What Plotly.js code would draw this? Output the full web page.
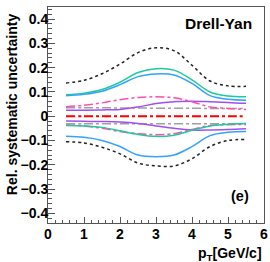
<!DOCTYPE html>
<html>
<head>
<meta charset="utf-8">
<script src="https://cdn.plot.ly/plotly-3.0.1.min.js"></script>
<style>html,body{margin:0;padding:0;background:#fff;}#chart{width:270px;height:262px;}</style>
</head>
<body>
<div id="chart"></div>
<script>
var pt = [0.5, 1, 1.5, 2, 2.5, 3, 3.5, 4, 4.5, 5, 5.5];
var totalUp = [0.137, 0.148, 0.175, 0.215, 0.262, 0.282, 0.27, 0.21, 0.145, 0.125, 0.123];
var totalDn = [-0.105, -0.11, -0.128, -0.155, -0.193, -0.205, -0.205, -0.175, -0.125, -0.1, -0.096];
var tealUp = [0.088, 0.095, 0.11, 0.14, 0.18, 0.196, 0.19, 0.15, 0.1, 0.083, 0.08];
var tealDn = [-0.038, -0.04, -0.046, -0.06, -0.075, -0.083, -0.078, -0.058, -0.04, -0.033, -0.03];
var blueUp = [0.084, 0.09, 0.103, 0.13, 0.163, 0.174, 0.17, 0.135, 0.085, 0.07, 0.066];
var blueDn = [-0.083, -0.087, -0.1, -0.125, -0.16, -0.167, -0.16, -0.125, -0.08, -0.066, -0.063];
var magUp = [0.039, 0.045, 0.055, 0.068, 0.077, 0.08, 0.076, 0.06, 0.038, 0.032, 0.028];
var magDn = [-0.036, -0.04, -0.05, -0.063, -0.072, -0.076, -0.072, -0.055, -0.038, -0.035, -0.034];
var purpUp = [0.025, 0.025, 0.026, 0.028, 0.038, 0.052, 0.06, 0.062, 0.06, 0.057, 0.053];
var purpDn = [-0.02, -0.021, -0.022, -0.024, -0.03, -0.04, -0.05, -0.057, -0.057, -0.055, -0.052];
var grayUp = [0.035, 0.035, 0.035, 0.034, 0.034, 0.033, 0.033, 0.033, 0.032, 0.032, 0.032];
var grayDn = [-0.031, -0.031, -0.031, -0.031, -0.031, -0.031, -0.031, -0.031, -0.031, -0.031, -0.031];
var redZero = [0, 0, 0, 0, 0, 0, 0, 0, 0, 0, 0];

function tr(y, color, dash, width) {
  return {x: pt, y: y, mode: 'lines', type: 'scatter', hoverinfo: 'skip',
    line: {color: color, dash: dash, width: width, shape: 'spline', smoothing: 1}};
}
var data = [
  tr(grayUp, '#a0a0a0', 'dashdot', 1.5),
  tr(grayDn, '#a0a0a0', 'dashdot', 1.5),
  tr(redZero, '#ff0000', 'dashdot', 2),
  tr(purpUp, '#a050f0', 'solid', 1.5),
  tr(purpDn, '#a050f0', 'solid', 1.5),
  tr(magUp, '#ff4fa8', 'dashdot', 1.5),
  tr(magDn, '#ff4fa8', 'dashdot', 1.5),
  tr(tealUp, '#1fc9a0', 'solid', 1.5),
  tr(tealDn, '#1fc9a0', 'solid', 1.5),
  tr(blueUp, '#33a3ff', 'solid', 1.5),
  tr(blueDn, '#33a3ff', 'solid', 1.5),
  tr(totalUp, '#222222', 'dot', 1.5),
  tr(totalDn, '#222222', 'dot', 1.5)
];
var F = 'Liberation Sans, Arial, sans-serif';
var layout = {
  width: 270, height: 262,
  margin: {l: 48, r: 6, t: 7, b: 39, pad: 0},
  paper_bgcolor: '#fff', plot_bgcolor: '#fff',
  showlegend: false,
  font: {family: F, size: 14, color: '#000'},
  xaxis: {range: [0, 6], dtick: 1, tick0: 0, ticks: 'inside', ticklen: 6, tickcolor: '#555',
    showline: true, linecolor: '#555', linewidth: 1, mirror: true, showgrid: false, zeroline: false,
    tickfont: {family: F, size: 14, weight: 'bold'}, ticklabelstandoff: -2,
    minor: {dtick: 0.2, ticks: 'inside', ticklen: 3, tickcolor: '#555', showgrid: false}},
  yaxis: {range: [-0.44, 0.45], dtick: 0.1, tick0: 0, ticks: 'inside', ticklen: 7, tickcolor: '#555',
    showline: true, linecolor: '#555', linewidth: 1, mirror: true, showgrid: false, zeroline: false,
    tickfont: {family: F, size: 14, weight: 'bold'}, ticklabelstandoff: -4,
    minor: {dtick: 0.02, ticks: 'inside', ticklen: 4, tickcolor: '#555', showgrid: false}},
  annotations: [
    {text: 'Drell-Yan', xref: 'paper', yref: 'paper', x: 0.955, y: 0.925, xanchor: 'right', yanchor: 'middle',
      showarrow: false, font: {family: F, size: 15.5, weight: 'bold'}},
    {text: '(e)', xref: 'paper', yref: 'paper', x: 0.94, y: 0.125, xanchor: 'right', yanchor: 'middle',
      showarrow: false, font: {family: F, size: 14.5, weight: 'bold'}},
    {text: 'p<sub>T</sub>[GeV/c]', xref: 'paper', yref: 'paper', x: 1.0, y: -0.145, xanchor: 'right', yanchor: 'middle',
      showarrow: false, font: {family: F, size: 14, weight: 'bold'}},
    {text: 'Rel. systematic uncertainty', xref: 'paper', yref: 'paper', x: -0.167, y: 0.55, xanchor: 'center', yanchor: 'middle',
      textangle: -90, showarrow: false, font: {family: F, size: 14, weight: 'bold'}}
  ]
};
Plotly.newPlot('chart', data, layout, {staticPlot: true, displayModeBar: false});
</script>
</body>
</html>
